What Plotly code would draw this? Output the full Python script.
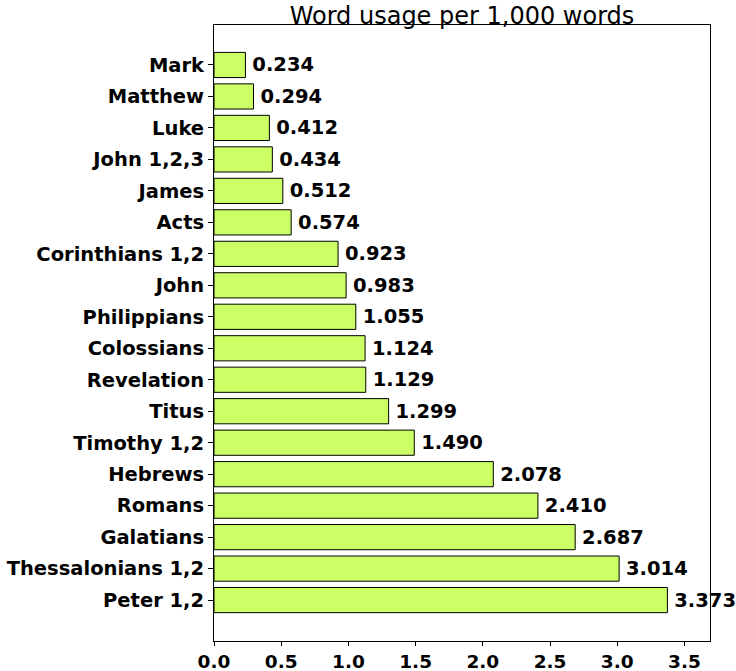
import plotly.graph_objects as go

# Books, top to bottom as shown
books = [
    'Mark', 'Matthew', 'Luke', 'John 1,2,3', 'James', 'Acts',
    'Corinthians 1,2', 'John', 'Philippians', 'Colossians', 'Revelation',
    'Titus', 'Timothy 1,2', 'Hebrews', 'Romans', 'Galatians',
    'Thessalonians 1,2', 'Peter 1,2',
]
usage = [
    0.234, 0.294, 0.412, 0.434, 0.512, 0.574,
    0.923, 0.983, 1.055, 1.124, 1.129,
    1.299, 1.490, 2.078, 2.410, 2.687,
    3.014, 3.373,
]
x_ticks = [0.0, 0.5, 1.0, 1.5, 2.0, 2.5, 3.0, 3.5]

name_font = dict(family='DejaVu Sans', size=19.5, color='black', weight='bold')
num_font = dict(family='DejaVu Sans', size=19.5, color='black', weight='bold')

fig = go.Figure(go.Bar(
    x=usage, y=books, orientation='h',
    marker=dict(color='#ccff66', line=dict(color='black', width=1)),
    width=0.8,
    text=[f'\u2009{v:.3f}' for v in usage],
    textposition='outside',
    textfont=num_font,
    cliponaxis=False,
    hoverinfo='x+y',
))

fig.update_layout(
    width=736, height=671,
    title=dict(text='Word usage per 1,000 words', x=0.5, xref='paper',
               xanchor='center', y=0.977, yanchor='middle',
               font=dict(family='DejaVu Sans', size=24, color='black')),
    plot_bgcolor='white', paper_bgcolor='white',
    margin=dict(l=214, r=26, t=25, b=30),
    showlegend=False,
    xaxis=dict(
        range=[0, 3.69], tickvals=x_ticks, ticktext=[f'{t:.1f}' for t in x_ticks],
        showgrid=False, zeroline=False, automargin=False,
        showline=True, linecolor='black', linewidth=1, mirror=True,
        ticks='outside', ticklen=4, tickcolor='black',
        tickfont=dict(family='DejaVu Sans', size=18.5, color='black', weight='bold'),
    ),
    yaxis=dict(
        range=[len(books) - 1 + 1.3, -1.27],
        showgrid=False, zeroline=False, automargin=False,
        showline=True, linecolor='black', linewidth=1, mirror=True,
        ticks='outside', ticklen=5, tickcolor='black',
        tickfont=name_font,
    ),
)

fig.write_html('out.html', config={'displayModeBar': False},
               post_script="document.body.style.margin='0';")
